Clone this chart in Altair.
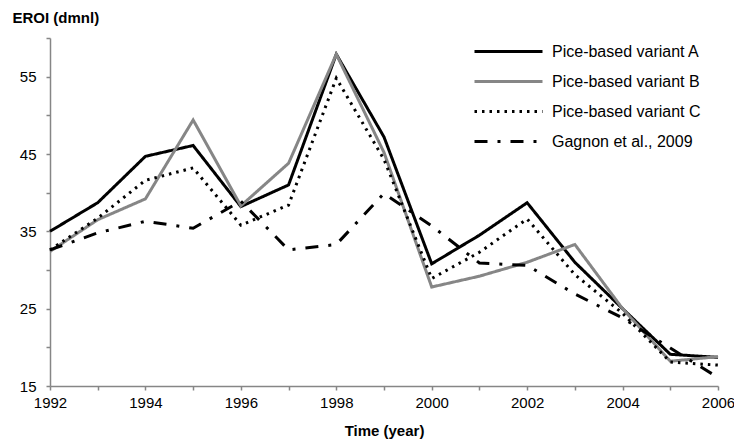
import altair as alt
import pandas as pd

years = list(range(1992, 2007))
series_names = ["Pice-based variant A", "Pice-based variant B", "Pice-based variant C", "Gagnon et al., 2009"]
variant_a = [35.0, 38.7, 44.7, 46.1, 38.2, 41.0, 57.9, 47.2, 30.8, 34.5, 38.7, 31.0, 25.0, 19.1, 18.7]
variant_b = [32.4, 36.5, 39.2, 49.4, 38.3, 43.8, 57.9, 45.2, 27.8, 29.2, 31.0, 33.3, 25.0, 18.2, 18.8]
variant_c = [32.6, 36.7, 41.6, 43.2, 35.8, 38.4, 54.8, 44.3, 28.9, 32.3, 36.6, 29.4, 24.4, 18.1, 17.7]
gagnon = [32.6, 34.8, 36.3, 35.4, 38.9, 32.6, 33.3, 39.9, 35.7, 30.9, 30.6, 26.9, 23.8, 19.9, 16.1]

rows = []
for name, vals in zip(series_names, [variant_a, variant_b, variant_c, gagnon]):
    for y, v in zip(years, vals):
        rows.append({"year": y, "eroi": v, "series": name})
df = pd.DataFrame(rows)

FONT = "Liberation Sans"
AXIS_GRAY = "#868686"

color_scale = alt.Scale(domain=series_names, range=["#000000", "#868686", "#000000", "#000000"])
dash_scale = alt.Scale(domain=series_names, range=[[1, 0], [1, 0], [2.5, 5], [13, 10, 3, 10]])
width_scale = alt.Scale(domain=series_names, range=[3, 3, 2.5, 3])

legend = alt.Legend(
    title=None,
    orient="none",
    legendX=450,
    legendY=5,
    symbolType="M-5,0H5",
    symbolSize=185,
    labelFont=FONT,
    labelFontSize=16,
    labelColor="#000000",
    labelOffset=35,
    rowPadding=13,
)

chart = alt.Chart(df).mark_line().encode(
    x=alt.X("year:Q",
            scale=alt.Scale(domain=[1992, 2006], nice=False, zero=False),
            axis=alt.Axis(title="Time (year)", values=years, format="d",
                          labelExpr="datum.value % 2 == 0 ? datum.label : ''",
                          grid=False, tickSize=4, labelPadding=5, titlePadding=13,
                          labelFlush=False, labelOverlap=False)),
    y=alt.Y("eroi:Q",
            scale=alt.Scale(domain=[15, 60], nice=False, zero=False),
            axis=alt.Axis(title="EROI (dmnl)", values=list(range(15, 61, 5)),
                          labelExpr="(datum.value - 15) % 10 == 0 ? datum.label : ''",
                          grid=False, tickSize=4, labelPadding=10,
                          titleAngle=0, titleAlign="left", titleBaseline="alphabetic",
                          titleX=-38, titleY=-16, labelOverlap=False)),
    color=alt.Color("series:N", scale=color_scale, legend=legend, sort=series_names),
    strokeDash=alt.StrokeDash("series:N", scale=dash_scale, legend=legend, sort=series_names),
    strokeWidth=alt.StrokeWidth("series:N", scale=width_scale, legend=legend, sort=series_names),
    detail="series:N",
).properties(
    width=668,
    height=348,
    autosize=alt.AutoSizeParams(type="none"),
    padding={"left": 42, "top": 30, "right": 16, "bottom": 53},
).configure_view(
    stroke=None
).configure_axis(
    domainColor=AXIS_GRAY,
    tickColor=AXIS_GRAY,
    domainWidth=1.5,
    tickWidth=1.5,
    labelFont=FONT,
    labelFontSize=15,
    labelColor="#000000",
    titleFont=FONT,
    titleFontSize=15,
    titleFontWeight="bold",
    titleColor="#000000",
)

chart.save("out.html", embed_options={"renderer": "svg", "actions": False})
